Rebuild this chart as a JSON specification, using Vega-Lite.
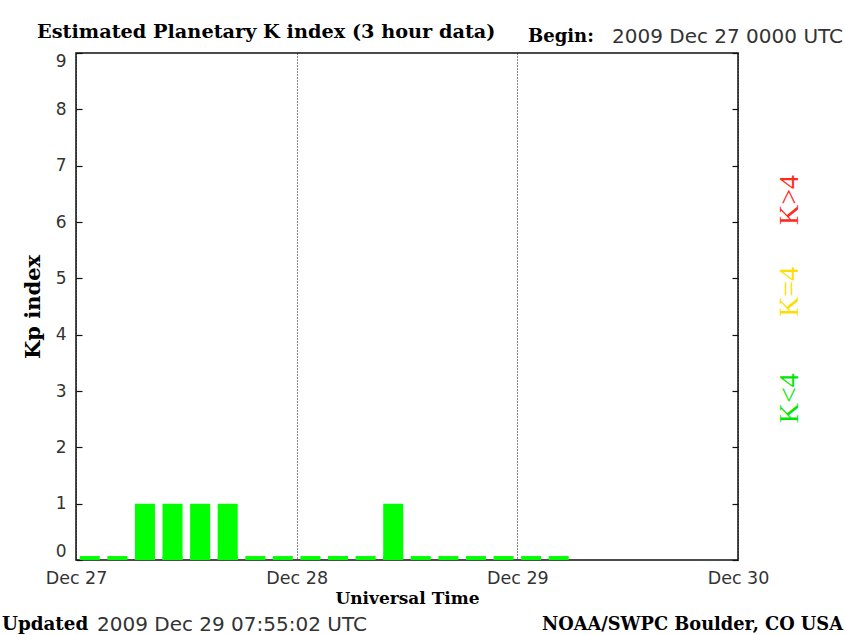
{
  "$schema": "https://vega.github.io/schema/vega-lite/v6.json",
  "width": 662,
  "height": 507,
  "autosize": {"type": "none"},
  "padding": {"left": 76, "top": 53, "right": 107, "bottom": 75},
  "background": "white",
  "config": {
    "view": {"stroke": "#111111", "strokeWidth": 1.5},
    "axis": {"domain": false}
  },
  "resolve": {"axis": {"x": "independent", "y": "independent"}},
  "data": {
    "values": [
      {"t": "2009-12-27T01:30:00Z", "kp": 0},
      {"t": "2009-12-27T04:30:00Z", "kp": 0},
      {"t": "2009-12-27T07:30:00Z", "kp": 1},
      {"t": "2009-12-27T10:30:00Z", "kp": 1},
      {"t": "2009-12-27T13:30:00Z", "kp": 1},
      {"t": "2009-12-27T16:30:00Z", "kp": 1},
      {"t": "2009-12-27T19:30:00Z", "kp": 0},
      {"t": "2009-12-27T22:30:00Z", "kp": 0},
      {"t": "2009-12-28T01:30:00Z", "kp": 0},
      {"t": "2009-12-28T04:30:00Z", "kp": 0},
      {"t": "2009-12-28T07:30:00Z", "kp": 0},
      {"t": "2009-12-28T10:30:00Z", "kp": 1},
      {"t": "2009-12-28T13:30:00Z", "kp": 0},
      {"t": "2009-12-28T16:30:00Z", "kp": 0},
      {"t": "2009-12-28T19:30:00Z", "kp": 0},
      {"t": "2009-12-28T22:30:00Z", "kp": 0},
      {"t": "2009-12-29T01:30:00Z", "kp": 0},
      {"t": "2009-12-29T04:30:00Z", "kp": 0}
    ]
  },
  "layer": [
    {
      "mark": {"type": "bar", "width": 20},
      "encoding": {
        "x": {
          "field": "t", "type": "temporal",
          "scale": {"type": "utc", "domain": [1261872000000, 1262131200000], "nice": false, "padding": 0},
          "axis": {
            "values": [1261872000000, 1261958400000, 1262044800000, 1262131200000],
            "labelExpr": "utcFormat(datum.value, '%b %d')",
            "title": "Universal Time",
            "titleFont": "DejaVu Serif", "titleFontWeight": "bold", "titleFontSize": 17, "titleColor": "#000",
            "titlePadding": 4,
            "labelFont": "DejaVu Sans", "labelFontSize": 17.5, "labelColor": "#333", "labelPadding": 9,
            "labelFlush": false,
            "ticks": false,
            "grid": true, "gridColor": "#111", "gridDash": [1, 2], "gridWidth": 1, "gridOpacity": 1
          }
        },
        "y": {
          "field": "kp", "type": "quantitative",
          "scale": {"domain": [0, 9], "nice": false, "padding": 0},
          "axis": {
            "orient": "left",
            "values": [0, 1, 2, 3, 4, 5, 6, 7, 8, 9],
            "title": "Kp index",
            "titleFont": "DejaVu Serif", "titleFontWeight": "bold", "titleFontSize": 21, "titleColor": "#000",
            "titlePadding": 12,
            "labelFont": "DejaVu Sans", "labelFontSize": 17, "labelColor": "#333", "labelPadding": 16,
            "labelFlush": true,
            "tickSize": -6, "tickColor": "#111", "tickWidth": 1.2,
            "grid": false
          }
        },
        "color": {
          "condition": [
            {"test": "datum.kp > 4", "value": "#ff1a1a"},
            {"test": "datum.kp == 4", "value": "#ffee00"}
          ],
          "value": "#00ff00"
        }
      }
    },
    {
      "mark": {"type": "bar", "width": 20},
      "encoding": {
        "x": {"field": "t", "type": "temporal", "axis": null},
        "y": {"datum": 0, "type": "quantitative", "axis": null},
        "y2": {"datum": 0.07},
        "color": {
          "condition": [
            {"test": "datum.kp > 4", "value": "#ff1a1a"},
            {"test": "datum.kp == 4", "value": "#ffee00"}
          ],
          "value": "#00ff00"
        }
      }
    },
    {
      "mark": {"type": "rule", "opacity": 0},
      "encoding": {
        "y": {"field": "kp", "type": "quantitative", "axis": {
          "orient": "right", "values": [0, 1, 2, 3, 4, 5, 6, 7, 8, 9],
          "labels": false, "title": null, "grid": false,
          "tickSize": -6, "tickColor": "#111", "tickWidth": 1.2
        }}
      }
    },
    {
      "data": {"values": [{}]},
      "mark": {"type": "text", "text": "Estimated Planetary K index (3 hour data)", "align": "left", "baseline": "middle", "font": "DejaVu Serif", "fontWeight": "bold", "fontSize": 19.3, "color": "#000"},
      "encoding": {
        "x": {"datum": 1261856729940, "type": "temporal", "axis": null},
        "y": {"datum": 9.373, "type": "quantitative", "axis": null}
      }
    },
    {
      "data": {"values": [{}]},
      "mark": {"type": "text", "text": "Begin:", "align": "left", "baseline": "middle", "font": "DejaVu Serif", "fontWeight": "bold", "fontSize": 18, "color": "#000"},
      "encoding": {
        "x": {"datum": 1262048976080, "type": "temporal", "axis": null},
        "y": {"datum": 9.285, "type": "quantitative", "axis": null}
      }
    },
    {
      "data": {"values": [{}]},
      "mark": {"type": "text", "text": "2009 Dec 27 0000 UTC", "align": "left", "baseline": "middle", "font": "DejaVu Sans", "fontSize": 20, "color": "#333"},
      "encoding": {
        "x": {"datum": 1262081865440, "type": "temporal", "axis": null},
        "y": {"datum": 9.285, "type": "quantitative", "axis": null}
      }
    },
    {
      "data": {"values": [{}]},
      "mark": {"type": "text", "text": "K>4", "angle": 270, "align": "center", "baseline": "middle", "font": "Liberation Serif", "fontSize": 28, "color": "#ff2a1a"},
      "encoding": {
        "x": {"datum": 1262151559560, "type": "temporal", "axis": null},
        "y": {"datum": 6.39, "type": "quantitative", "axis": null}
      }
    },
    {
      "data": {"values": [{}]},
      "mark": {"type": "text", "text": "K=4", "angle": 270, "align": "center", "baseline": "middle", "font": "Liberation Serif", "fontSize": 28, "color": "#ffdd00"},
      "encoding": {
        "x": {"datum": 1262151559560, "type": "temporal", "axis": null},
        "y": {"datum": 4.76, "type": "quantitative", "axis": null}
      }
    },
    {
      "data": {"values": [{}]},
      "mark": {"type": "text", "text": "K<4", "angle": 270, "align": "center", "baseline": "middle", "font": "Liberation Serif", "fontSize": 28, "color": "#00e600"},
      "encoding": {
        "x": {"datum": 1262151559560, "type": "temporal", "axis": null},
        "y": {"datum": 2.87, "type": "quantitative", "axis": null}
      }
    },
    {
      "data": {"values": [{}]},
      "mark": {"type": "text", "text": "Updated", "align": "left", "baseline": "middle", "font": "DejaVu Serif", "fontWeight": "bold", "fontSize": 18.3, "color": "#000"},
      "encoding": {
        "x": {"datum": 1261843026040, "type": "temporal", "axis": null},
        "y": {"datum": -1.154, "type": "quantitative", "axis": null}
      }
    },
    {
      "data": {"values": [{}]},
      "mark": {"type": "text", "text": "2009 Dec 29 07:55:02 UTC", "align": "left", "baseline": "middle", "font": "DejaVu Sans", "fontSize": 20, "color": "#333"},
      "encoding": {
        "x": {"datum": 1261880222340, "type": "temporal", "axis": null},
        "y": {"datum": -1.154, "type": "quantitative", "axis": null}
      }
    },
    {
      "data": {"values": [{}]},
      "mark": {"type": "text", "text": "NOAA/SWPC Boulder, CO USA", "align": "right", "baseline": "middle", "font": "DejaVu Serif", "fontSize": 17.8, "fontWeight": "bold", "color": "#000"},
      "encoding": {
        "x": {"datum": 1262172311180, "type": "temporal", "axis": null},
        "y": {"datum": -1.154, "type": "quantitative", "axis": null}
      }
    }
  ]
}
